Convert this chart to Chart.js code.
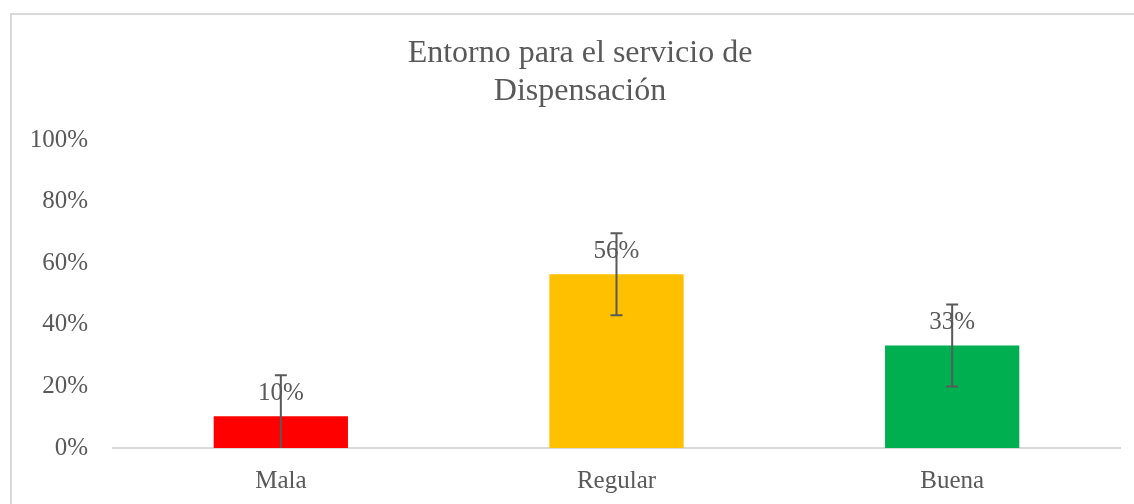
<!DOCTYPE html>
<html>
<head>
<meta charset="utf-8">
<script src="https://cdn.jsdelivr.net/npm/chart.js@4.4.1/dist/chart.umd.min.js"></script>
<style>
  body { margin: 0; background: #fff; }
  #frame {
    position: absolute;
    left: 10px;
    top: 13px;
    width: 1130px;
    height: 500px;
    border-left: 2px solid #d9d9d9;
    border-top: 2px solid #d9d9d9;
  }
  #wrap { position: absolute; left: 0; top: 0; width: 1134px; height: 504px; }
</style>
</head>
<body>
<div id="frame"></div>
<div id="wrap"><canvas id="barGraph"></canvas></div>
<script>
const categories = ["Mala", "Regular", "Buena"];
const values = [10.3, 56.4, 33.3];
const errors = [13.3, 13.3, 13.3];
const valueLabels = ["10%", "56%", "33%"];
const barColors = ["#ff0000", "#ffc000", "#00b050"];
const titleLines = ["Entorno para el servicio de", "Dispensación"];

const serif = "'Liberation Serif', 'Times New Roman', serif";
const textColor = "#595959";

// title (centred like the original, a bit right of the canvas middle)
const titleText = {
  id: "titleText",
  afterDraw(chart) {
    const c = chart.ctx;
    c.save();
    c.font = "32px " + serif;
    c.fillStyle = textColor;
    c.textAlign = "center";
    c.textBaseline = "alphabetic";
    titleLines.forEach((line, i) => {
      c.fillText(line, 580, 62 + i * 38);
    });
    c.restore();
  },
};

// error bars + value labels, drawn after the bars
const extras = {
  id: "extras",
  afterDatasetsDraw(chart) {
    const c = chart.ctx;
    const y = chart.scales.y;
    const area = chart.chartArea;
    const meta = chart.getDatasetMeta(0);

    c.save();
    c.font = "25px " + serif;
    c.fillStyle = textColor;
    c.textAlign = "center";
    c.textBaseline = "alphabetic";
    meta.data.forEach((bar, i) => {
      c.fillText(valueLabels[i], bar.x, bar.y - 16);
    });
    c.restore();

    c.save();
    c.beginPath();
    c.rect(area.left, area.top - 20, area.right - area.left, area.bottom - area.top + 20);
    c.clip();
    c.strokeStyle = "#595959";
    c.lineWidth = 2;
    meta.data.forEach((bar, i) => {
      const top = y.getPixelForValue(values[i] + errors[i]);
      const bottom = y.getPixelForValue(values[i] - errors[i]);
      c.beginPath();
      c.moveTo(bar.x, top);
      c.lineTo(bar.x, bottom);
      c.moveTo(bar.x - 6, top);
      c.lineTo(bar.x + 6, top);
      c.moveTo(bar.x - 6, bottom);
      c.lineTo(bar.x + 6, bottom);
      c.stroke();
    });
    c.restore();
  },
};

const ctx = document.getElementById("barGraph").getContext("2d");
const myChart = new Chart(ctx, {
  type: "bar",
  data: {
    labels: categories,
    datasets: [
      {
        data: values,
        backgroundColor: barColors,
        borderWidth: 0,
        categoryPercentage: 1,
        barPercentage: 0.4,
      },
    ],
  },
  options: {
    responsive: true,
    maintainAspectRatio: false,
    animation: false,
    layout: {
      padding: { left: 0, right: 14, top: 140, bottom: 0 },
    },
    plugins: {
      legend: { display: false },
      tooltip: { enabled: false },
      title: { display: false },
    },
    scales: {
      x: {
        grid: { display: false },
        border: { display: true, color: "#d9d9d9", width: 2 },
        ticks: {
          color: textColor,
          font: { family: serif, size: 25 },
          padding: 10,
        },
        afterFit(scale) {
          scale.height = 504 - 448;
        },
      },
      y: {
        min: 0,
        max: 100,
        grid: { display: false },
        border: { display: false },
        ticks: {
          stepSize: 20,
          color: textColor,
          font: { family: serif, size: 25 },
          padding: 17,
          callback: (v) => v + "%",
        },
        afterFit(scale) {
          scale.width = 113;
        },
      },
    },
  },
  plugins: [extras, titleText],
});
</script>
</body>
</html>
